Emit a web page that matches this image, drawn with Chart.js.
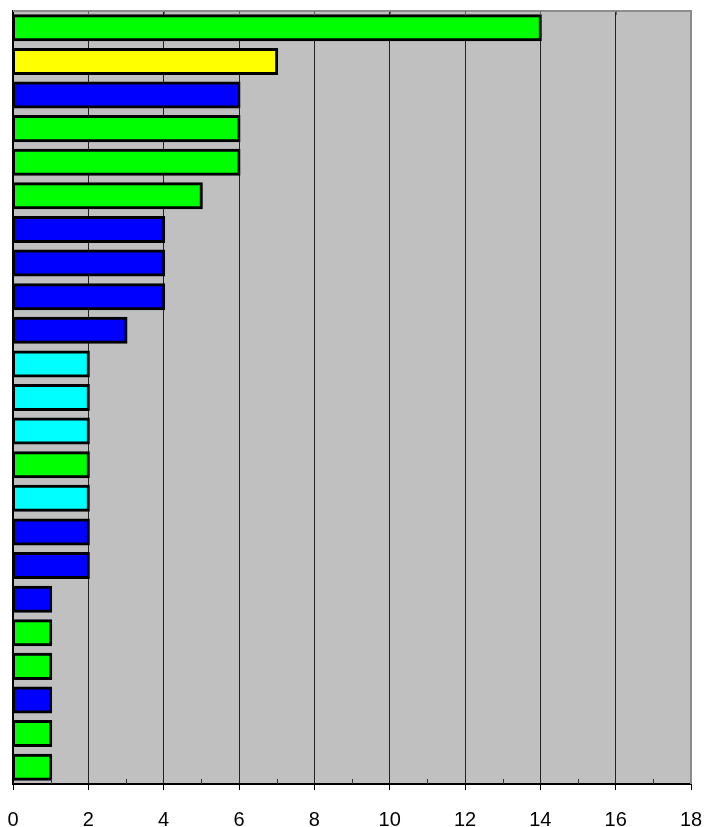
<!DOCTYPE html>
<html>
<head>
<meta charset="utf-8">
<script src="https://cdn.jsdelivr.net/npm/chart.js@4/dist/chart.umd.min.js"></script>
<style>
  html, body { margin: 0; padding: 0; background: #fff; }
  #wrap { width: 705px; height: 827px; }
</style>
</head>
<body>
<div id="wrap"><canvas id="chart" width="705" height="827"></canvas></div>
<script>
// Data (top bar first)
const categories = ["1", "2", "3", "4", "5", "6", "7", "8", "9", "10", "11", "12",
  "13", "14", "15", "16", "17", "18", "19", "20", "21", "22", "23"];
const values = [14, 7, 6, 6, 6, 5, 4, 4, 4, 3, 2, 2, 2, 2, 2, 2, 2, 1, 1, 1, 1, 1, 1];
const groups = ["green", "yellow", "blue", "green", "green", "green", "blue", "blue",
  "blue", "blue", "cyan", "cyan", "cyan", "green", "cyan", "blue", "blue", "blue",
  "green", "green", "blue", "green", "green"];
const xTicks = [0, 2, 4, 6, 8, 10, 12, 14, 16, 18];

const groupColors = { green: "#00ff00", yellow: "#ffff00", blue: "#0000ff", cyan: "#00ffff" };

// Plot frame: gray fill, borders and the small ticks
const framePlugin = {
  id: "frame",
  beforeDraw(chart) {
    const { ctx, chartArea: a } = chart;
    ctx.save();
    ctx.fillStyle = "#c0c0c0";
    ctx.fillRect(a.left, a.top, a.right - a.left, a.bottom - a.top);
    ctx.restore();
  },
  afterDraw(chart) {
    const { ctx, chartArea: a } = chart;
    const x = chart.scales.x;
    ctx.save();
    // top and right borders (gray)
    ctx.strokeStyle = "#8c8c8c";
    ctx.lineWidth = 2;
    ctx.beginPath();
    ctx.moveTo(a.left, a.top);
    ctx.lineTo(a.right, a.top);
    ctx.lineTo(a.right, a.bottom);
    ctx.stroke();
    // ticks hanging from top border
    ctx.lineWidth = 1;
    ctx.strokeStyle = "#666";
    xTicks.slice(1, -1).forEach(v => {
      const px = Math.round(x.getPixelForValue(v)) + 0.5;
      ctx.beginPath();
      ctx.moveTo(px, a.top);
      ctx.lineTo(px, a.top + 4);
      ctx.stroke();
    });
    // minor ticks pointing up from the axis
    ctx.strokeStyle = "#333";
    for (let v = 1; v < 18; v += 2) {
      const px = Math.round(x.getPixelForValue(v)) + 0.5;
      ctx.beginPath();
      ctx.moveTo(px, a.bottom);
      ctx.lineTo(px, a.bottom - 5);
      ctx.stroke();
    }
    ctx.restore();
  }
};

new Chart(document.getElementById("chart"), {
  type: "bar",
  data: {
    labels: categories,
    datasets: [{
      data: values,
      backgroundColor: groups.map(g => groupColors[g]),
      borderColor: "#000",
      borderWidth: 3,
      borderSkipped: false,
      inflateAmount: 1.5,
      barPercentage: 0.715,
      categoryPercentage: 1.0
    }]
  },
  options: {
    indexAxis: "y",
    responsive: false,
    animation: false,
    layout: { padding: { left: 13, right: 14, top: 11, bottom: 0 } },
    plugins: { legend: { display: false }, tooltip: { enabled: false } },
    scales: {
      y: {
        display: true,
        ticks: { display: false },
        grid: { display: false },
        border: { display: true, color: "#000", width: 2 },
        afterFit: (scale) => { scale.width = 0; }
      },
      x: {
        min: 0,
        max: 18,
        afterBuildTicks: (scale) => { scale.ticks = xTicks.map(v => ({ value: v })); },
        afterFit: (scale) => {
          scale.height = 43;
          scale.paddingLeft = 0;
          scale.paddingRight = 0;
        },
        grid: {
          color: (c) => (c.tick && (c.tick.value === 0 || c.tick.value === 18)) ? "rgba(0,0,0,0)" : "#222",
          lineWidth: 1,
          borderDash: [1, 2],
          tickColor: "#000",
          tickLength: 6,
          tickBorderDash: []
        },
        border: { display: true, color: "#000", width: 2 },
        ticks: {
          color: "#000",
          padding: 18,
          maxRotation: 0,
          font: { family: "Liberation Sans, Arial, sans-serif", size: 20 }
        }
      }
    }
  },
  plugins: [framePlugin]
});
</script>
</body>
</html>
